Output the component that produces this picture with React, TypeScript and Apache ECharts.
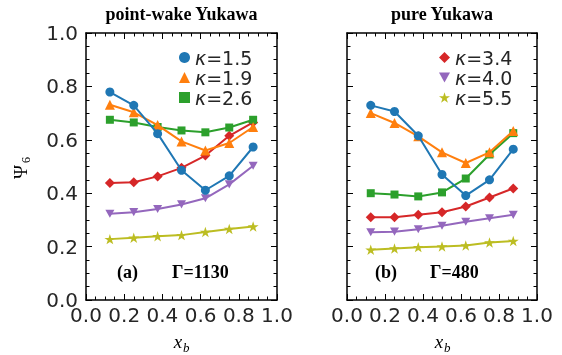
import React, { useEffect, useRef } from "react";
import * as echarts from "echarts";

const xValues = [0.125, 0.25, 0.375, 0.5, 0.625, 0.75, 0.875];
const kappaNames = ["κ=1.5", "κ=1.9", "κ=2.6", "κ=3.4", "κ=4.0", "κ=5.5"];

// panel (a) point-wake Yukawa, Γ=1130
const pwK15 = [0.779, 0.729, 0.623, 0.486, 0.411, 0.465, 0.573];
const pwK19 = [0.731, 0.703, 0.655, 0.594, 0.56, 0.588, 0.648];
const pwK26 = [0.675, 0.665, 0.648, 0.635, 0.628, 0.646, 0.675];
const pwK34 = [0.438, 0.441, 0.463, 0.495, 0.541, 0.615, 0.665];
const pwK40 = [0.323, 0.329, 0.341, 0.358, 0.381, 0.433, 0.503];
const pwK55 = [0.228, 0.233, 0.239, 0.243, 0.255, 0.266, 0.275];

// panel (b) pure Yukawa, Γ=480
const puK15 = [0.729, 0.706, 0.615, 0.47, 0.391, 0.45, 0.565];
const puK19 = [0.7, 0.663, 0.613, 0.553, 0.513, 0.553, 0.633];
const puK26 = [0.4, 0.395, 0.388, 0.403, 0.455, 0.545, 0.625];
const puK34 = [0.31, 0.31, 0.319, 0.329, 0.35, 0.384, 0.418];
const puK40 = [0.254, 0.256, 0.265, 0.278, 0.293, 0.306, 0.319];
const puK55 = [0.188, 0.193, 0.198, 0.2, 0.204, 0.215, 0.221];

const colors = ["#1f77b4", "#ff7f0e", "#2ca02c", "#d62728", "#9467bd", "#bcbd22"];
const STAR =
  "path://M0,-1L0.225,-0.309L0.951,-0.309L0.363,0.118L0.588,0.809L0,0.382L-0.588,0.809L-0.363,0.118L-0.951,-0.309L-0.225,-0.309Z";
const DIAMOND = "path://M0,-1L1,0L0,1L-1,0Z";
const TRI_DOWN = "path://M-1,-0.9L1,-0.9L0,0.9Z";
const symbols = ["circle", "triangle", "rect", DIAMOND, TRI_DOWN, STAR];
const symbolSizes = [9, 10, 8, 10, 9, 11];
const legendIcons = ["circle", "triangle", "rect", DIAMOND, TRI_DOWN, STAR];

const panelA = [pwK15, pwK19, pwK26, pwK34, pwK40, pwK55];
const panelB = [puK15, puK19, puK26, puK34, puK40, puK55];

const SANS = "DejaVu Sans";
const SERIF = "Liberation Serif";

function makeAxes(gridIndex: number, showY: boolean) {
  const common = {
    gridIndex,
    type: "value" as const,
    min: 0,
    max: 1,
    interval: 0.2,
    axisLine: { show: true, onZero: false, lineStyle: { color: "#000", width: 1.5 } },
    axisTick: { show: true, inside: true, length: 6, lineStyle: { color: "#000", width: 1 } },
    minorTick: { show: true, splitNumber: 4, length: 3.5, lineStyle: { color: "#000", width: 1 } },
    splitLine: { show: false },
  };
  const label = {
    show: true,
    color: "#262626",
    fontFamily: SANS,
    fontSize: 20,
    formatter: (v: number) => v.toFixed(1),
  };
  const x = [
    { ...common, position: "bottom", axisLabel: { ...label, margin: 5 } },
    { ...common, position: "top", axisLabel: { show: false } },
  ];
  const y = [
    { ...common, position: "left", axisLabel: showY ? { ...label, margin: 8 } : { show: false } },
    { ...common, position: "right", axisLabel: { show: false } },
  ];
  return { x, y };
}

export default function App() {
  const ref = useRef<HTMLDivElement>(null);
  useEffect(() => {
    if (!ref.current) return;
    const chart = echarts.init(ref.current, null, { renderer: "svg" });
    const a = makeAxes(0, true);
    const b = makeAxes(1, false);
    const series: any[] = [];
    [panelA, panelB].forEach((panel, p) => {
      panel.forEach((vals, i) => {
        series.push({
          type: "line",
          name: kappaNames[i],
          xAxisIndex: p * 2,
          yAxisIndex: p * 2,
          data: xValues.map((x, j) => [x, vals[j]]),
          symbol: symbols[i],
          symbolSize: symbolSizes[i],
          symbolKeepAspect: true,
          showAllSymbol: true,
          lineStyle: { color: colors[i], width: 2 },
          itemStyle: { color: colors[i], borderWidth: 0 },
          z: 10 - i,
        });
      });
    });
    const legendText = {
      fontFamily: SANS,
      fontSize: 19,
      color: "#262626",
      rich: {
        k: { fontFamily: SANS, fontStyle: "italic", fontSize: 19, color: "#262626" },
        r: { fontFamily: SANS, fontSize: 19, color: "#262626" },
      },
    };
    const legendFormatter = (n: string) => `{k|κ}{r|${n.slice(1)}}`;
    const mkLegend = (left: number, idx: number[]) => ({
      left,
      top: 48,
      orient: "vertical",
      itemWidth: 11,
      itemHeight: 11,
      itemGap: 1,
      padding: 0,
      formatter: legendFormatter,
      textStyle: legendText,
      selectedMode: false,
      data: idx.map((i) => ({
        name: kappaNames[i],
        icon: legendIcons[i],
        itemStyle: { color: colors[i] },
      })),
    });
    const bold = { fontFamily: SERIF, fontWeight: "bold", fontSize: 18, fill: "#000" };
    const txt = (text: string, x: number, y: number, style: any, align = "left") => ({
      type: "text",
      x,
      y,
      style: { text, textAlign: align, textVerticalAlign: "middle", ...style },
    });
    const xLabel = (cx: number) => [
      txt("x", cx - 3, 341, { fontFamily: SERIF, fontStyle: "italic", fontSize: 19, fill: "#000" }, "center"),
      txt("b", cx + 2, 347, { fontFamily: SERIF, fontStyle: "italic", fontSize: 13, fill: "#000" }),
    ];
    chart.setOption({
      animation: false,
      grid: [
        { left: 86, top: 33, width: 191, height: 267 },
        { left: 347, top: 33, width: 190, height: 267 },
      ],
      xAxis: [...a.x, ...b.x],
      yAxis: [...a.y, ...b.y],
      legend: [mkLegend(179, [0, 1, 2]), mkLegend(439, [3, 4, 5])],
      series,
      graphic: [
        txt("point-wake Yukawa", 181.5, 14, bold, "center"),
        txt("pure Yukawa", 442, 14, bold, "center"),
        txt("(a)", 117, 272, bold),
        txt("Γ=1130", 172, 272, bold),
        txt("(b)", 375, 272, bold),
        txt("Γ=480", 430, 272, bold),
        ...xLabel(181),
        ...xLabel(442),
        {
          type: "text",
          x: 20,
          y: 172,
          rotation: Math.PI / 2,
          style: { text: "Ψ", textAlign: "center", textVerticalAlign: "middle", fontFamily: SERIF, fontSize: 19, fill: "#000" },
        },
        {
          type: "text",
          x: 26,
          y: 160,
          rotation: Math.PI / 2,
          style: { text: "6", textAlign: "center", textVerticalAlign: "middle", fontFamily: SERIF, fontSize: 12, fill: "#000" },
        },
      ],
    });
    return () => chart.dispose();
  }, []);
  return <div ref={ref} style={{ position: "fixed", left: 0, top: 0, width: 562, height: 355 }} />;
}
